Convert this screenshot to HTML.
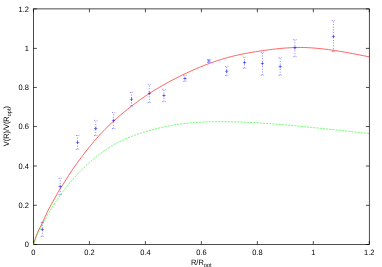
<!DOCTYPE html>
<html><head><meta charset="utf-8"><style>
html,body{margin:0;padding:0;background:#fff;}
svg{display:block;will-change:transform;}
text{text-rendering:geometricPrecision;font-family:"Liberation Sans",sans-serif;font-size:7.8px;fill:#000;}
</style></head><body>
<svg width="382" height="267" viewBox="0 0 382 267">
<rect width="382" height="267" fill="#fff"/>
<g fill="none" stroke="#000" stroke-width="0.7">
<rect x="33.45" y="8.9" width="335.85" height="235.60"/>
<path d="M33.45,244.5V241.1M33.45,8.9V12.3M33.45,244.50H36.85M369.3,244.50H365.90000000000003M89.43,244.5V241.1M89.43,8.9V12.3M33.45,205.30H36.85M369.3,205.30H365.90000000000003M145.40,244.5V241.1M145.40,8.9V12.3M33.45,166.00H36.85M369.3,166.00H365.90000000000003M201.38,244.5V241.1M201.38,8.9V12.3M33.45,126.55H36.85M369.3,126.55H365.90000000000003M257.35,244.5V241.1M257.35,8.9V12.3M33.45,87.45H36.85M369.3,87.45H365.90000000000003M313.32,244.5V241.1M313.32,8.9V12.3M33.45,48.40H36.85M369.3,48.40H365.90000000000003M369.30,244.5V241.1M369.30,8.9V12.3M33.45,8.90H36.85M369.3,8.90H365.90000000000003"/>
</g>
<path d="M33.45,244.50 L34.86,240.08 L36.26,235.92 L37.67,232.43 L39.07,229.43 L40.48,226.58 L41.88,223.69 L43.29,220.68 L44.69,217.61 L46.10,214.57 L47.50,211.60 L48.91,208.75 L50.31,206.06 L51.72,203.55 L53.12,201.17 L54.53,198.76 L55.93,196.17 L57.34,193.53 L58.74,191.07 L60.15,188.85 L61.55,186.71 L62.96,184.55 L64.37,182.33 L65.77,180.07 L67.18,177.82 L68.58,175.59 L69.99,173.41 L71.39,171.27 L72.80,169.19 L74.20,167.15 L75.61,165.16 L77.01,163.19 L78.42,161.27 L79.82,159.37 L81.23,157.49 L82.63,155.64 L84.04,153.82 L85.44,152.01 L86.85,150.22 L88.25,148.44 L89.66,146.69 L91.06,144.96 L92.47,143.26 L93.87,141.58 L95.28,139.93 L96.69,138.31 L98.09,136.72 L99.50,135.16 L100.90,133.63 L102.31,132.13 L103.71,130.67 L105.12,129.23 L106.52,127.83 L107.93,126.44 L109.33,125.09 L110.74,123.76 L112.14,122.45 L113.55,121.16 L114.95,119.89 L116.36,118.64 L117.76,117.41 L119.17,116.19 L120.57,115.00 L121.98,113.81 L123.38,112.64 L124.79,111.49 L126.20,110.35 L127.60,109.22 L129.01,108.10 L130.41,107.00 L131.82,105.91 L133.22,104.83 L134.63,103.76 L136.03,102.71 L137.44,101.68 L138.84,100.66 L140.25,99.65 L141.65,98.66 L143.06,97.68 L144.46,96.72 L145.87,95.77 L147.27,94.83 L148.68,93.91 L150.08,93.00 L151.49,92.10 L152.89,91.21 L154.30,90.34 L155.71,89.48 L157.11,88.63 L158.52,87.79 L159.92,86.96 L161.33,86.14 L162.73,85.33 L164.14,84.54 L165.54,83.75 L166.95,82.97 L168.35,82.21 L169.76,81.45 L171.16,80.70 L172.57,79.96 L173.97,79.23 L175.38,78.50 L176.78,77.79 L178.19,77.09 L179.59,76.39 L181.00,75.70 L182.40,75.02 L183.81,74.34 L185.21,73.68 L186.62,73.02 L188.03,72.37 L189.43,71.72 L190.84,71.09 L192.24,70.46 L193.65,69.84 L195.05,69.22 L196.46,68.62 L197.86,68.02 L199.27,67.43 L200.67,66.85 L202.08,66.28 L203.48,65.71 L204.89,65.16 L206.29,64.61 L207.70,64.08 L209.10,63.55 L210.51,63.04 L211.91,62.53 L213.32,62.03 L214.72,61.54 L216.13,61.07 L217.54,60.60 L218.94,60.14 L220.35,59.69 L221.75,59.26 L223.16,58.83 L224.56,58.42 L225.97,58.01 L227.37,57.62 L228.78,57.23 L230.18,56.86 L231.59,56.50 L232.99,56.15 L234.40,55.81 L235.80,55.48 L237.21,55.17 L238.61,54.86 L240.02,54.56 L241.42,54.27 L242.83,53.98 L244.23,53.71 L245.64,53.44 L247.04,53.18 L248.45,52.93 L249.86,52.68 L251.26,52.44 L252.67,52.20 L254.07,51.97 L255.48,51.75 L256.88,51.53 L258.29,51.31 L259.69,51.10 L261.10,50.89 L262.50,50.68 L263.91,50.48 L265.31,50.28 L266.72,50.09 L268.12,49.90 L269.53,49.71 L270.93,49.53 L272.34,49.35 L273.74,49.19 L275.15,49.02 L276.55,48.86 L277.96,48.71 L279.37,48.57 L280.77,48.43 L282.18,48.31 L283.58,48.19 L284.99,48.07 L286.39,47.97 L287.80,47.88 L289.20,47.79 L290.61,47.72 L292.01,47.65 L293.42,47.59 L294.82,47.55 L296.23,47.51 L297.63,47.49 L299.04,47.48 L300.44,47.48 L301.85,47.49 L303.25,47.51 L304.66,47.55 L306.06,47.59 L307.47,47.65 L308.88,47.71 L310.28,47.79 L311.69,47.88 L313.09,47.98 L314.50,48.08 L315.90,48.20 L317.31,48.33 L318.71,48.46 L320.12,48.60 L321.52,48.75 L322.93,48.91 L324.33,49.07 L325.74,49.25 L327.14,49.43 L328.55,49.61 L329.95,49.81 L331.36,50.00 L332.76,50.21 L334.17,50.42 L335.57,50.64 L336.98,50.86 L338.38,51.08 L339.79,51.31 L341.20,51.55 L342.60,51.79 L344.01,52.03 L345.41,52.28 L346.82,52.53 L348.22,52.79 L349.63,53.04 L351.03,53.30 L352.44,53.57 L353.84,53.83 L355.25,54.10 L356.65,54.37 L358.06,54.65 L359.46,54.92 L360.87,55.20 L362.27,55.47 L363.68,55.75 L365.08,56.03 L366.49,56.31 L367.89,56.59 L369.30,56.88" fill="none" stroke="#ff0000" stroke-width="0.62"/>
<path d="M33.45,244.50 L34.86,239.92 L36.26,236.70 L37.67,233.72 L39.07,230.87 L40.48,228.11 L41.88,225.41 L43.29,222.75 L44.69,220.14 L46.10,217.58 L47.50,215.07 L48.91,212.63 L50.31,210.26 L51.72,207.96 L53.12,205.73 L54.53,203.55 L55.93,201.43 L57.34,199.35 L58.74,197.33 L60.15,195.34 L61.55,193.41 L62.96,191.51 L64.37,189.66 L65.77,187.84 L67.18,186.07 L68.58,184.33 L69.99,182.63 L71.39,180.97 L72.80,179.34 L74.20,177.75 L75.61,176.20 L77.01,174.67 L78.42,173.18 L79.82,171.72 L81.23,170.29 L82.63,168.90 L84.04,167.53 L85.44,166.19 L86.85,164.88 L88.25,163.59 L89.66,162.34 L91.06,161.11 L92.47,159.90 L93.87,158.72 L95.28,157.57 L96.69,156.44 L98.09,155.33 L99.50,154.25 L100.90,153.19 L102.31,152.15 L103.71,151.14 L105.12,150.15 L106.52,149.18 L107.93,148.25 L109.33,147.34 L110.74,146.46 L112.14,145.60 L113.55,144.78 L114.95,143.99 L116.36,143.22 L117.76,142.48 L119.17,141.76 L120.57,141.07 L121.98,140.40 L123.38,139.76 L124.79,139.13 L126.20,138.52 L127.60,137.94 L129.01,137.36 L130.41,136.81 L131.82,136.27 L133.22,135.75 L134.63,135.23 L136.03,134.74 L137.44,134.25 L138.84,133.78 L140.25,133.32 L141.65,132.86 L143.06,132.42 L144.46,131.98 L145.87,131.56 L147.27,131.14 L148.68,130.73 L150.08,130.33 L151.49,129.94 L152.89,129.56 L154.30,129.19 L155.71,128.83 L157.11,128.47 L158.52,128.13 L159.92,127.80 L161.33,127.47 L162.73,127.16 L164.14,126.85 L165.54,126.55 L166.95,126.27 L168.35,125.99 L169.76,125.72 L171.16,125.47 L172.57,125.22 L173.97,124.98 L175.38,124.75 L176.78,124.54 L178.19,124.33 L179.59,124.13 L181.00,123.94 L182.40,123.76 L183.81,123.59 L185.21,123.43 L186.62,123.28 L188.03,123.13 L189.43,123.00 L190.84,122.87 L192.24,122.75 L193.65,122.63 L195.05,122.53 L196.46,122.43 L197.86,122.33 L199.27,122.25 L200.67,122.17 L202.08,122.09 L203.48,122.03 L204.89,121.97 L206.29,121.91 L207.70,121.86 L209.10,121.82 L210.51,121.78 L211.91,121.75 L213.32,121.72 L214.72,121.70 L216.13,121.68 L217.54,121.67 L218.94,121.67 L220.35,121.66 L221.75,121.66 L223.16,121.67 L224.56,121.68 L225.97,121.70 L227.37,121.71 L228.78,121.74 L230.18,121.76 L231.59,121.79 L232.99,121.83 L234.40,121.86 L235.80,121.90 L237.21,121.95 L238.61,121.99 L240.02,122.04 L241.42,122.10 L242.83,122.15 L244.23,122.21 L245.64,122.28 L247.04,122.34 L248.45,122.41 L249.86,122.48 L251.26,122.55 L252.67,122.62 L254.07,122.70 L255.48,122.78 L256.88,122.86 L258.29,122.95 L259.69,123.03 L261.10,123.12 L262.50,123.21 L263.91,123.31 L265.31,123.40 L266.72,123.50 L268.12,123.60 L269.53,123.70 L270.93,123.80 L272.34,123.90 L273.74,124.01 L275.15,124.12 L276.55,124.23 L277.96,124.34 L279.37,124.45 L280.77,124.57 L282.18,124.68 L283.58,124.80 L284.99,124.92 L286.39,125.04 L287.80,125.16 L289.20,125.29 L290.61,125.41 L292.01,125.54 L293.42,125.66 L294.82,125.79 L296.23,125.92 L297.63,126.05 L299.04,126.18 L300.44,126.32 L301.85,126.45 L303.25,126.59 L304.66,126.72 L306.06,126.86 L307.47,127.00 L308.88,127.14 L310.28,127.28 L311.69,127.42 L313.09,127.56 L314.50,127.70 L315.90,127.84 L317.31,127.99 L318.71,128.13 L320.12,128.28 L321.52,128.42 L322.93,128.57 L324.33,128.72 L325.74,128.87 L327.14,129.01 L328.55,129.16 L329.95,129.31 L331.36,129.46 L332.76,129.61 L334.17,129.76 L335.57,129.92 L336.98,130.07 L338.38,130.22 L339.79,130.37 L341.20,130.53 L342.60,130.68 L344.01,130.83 L345.41,130.99 L346.82,131.14 L348.22,131.30 L349.63,131.45 L351.03,131.61 L352.44,131.76 L353.84,131.92 L355.25,132.08 L356.65,132.23 L358.06,132.39 L359.46,132.54 L360.87,132.70 L362.27,132.86 L363.68,133.01 L365.08,133.17 L366.49,133.33 L367.89,133.48 L369.30,133.64" fill="none" stroke="#00ff00" stroke-width="0.58" stroke-dasharray="2.12 1.06"/>
<g fill="none" stroke="#0000ff" stroke-width="0.47">
<path d="M42.35,236.40V222.40" stroke-dasharray="1.06 1.59"/>
<path d="M40.68,222.40H44.02M40.68,236.40H44.02" stroke-dasharray="1.06 1.59"/>
<path d="M40.68,229.50H44.02M42.35,227.83V231.17"/>
<path d="M60.20,194.70V178.40" stroke-dasharray="1.06 1.59"/>
<path d="M58.53,178.40H61.87M58.53,194.70H61.87" stroke-dasharray="1.06 1.59"/>
<path d="M58.53,186.50H61.87M60.20,184.83V188.17"/>
<path d="M77.55,149.30V135.50" stroke-dasharray="1.06 1.59"/>
<path d="M75.88,135.50H79.22M75.88,149.30H79.22" stroke-dasharray="1.06 1.59"/>
<path d="M75.88,142.45H79.22M77.55,140.78V144.12"/>
<path d="M95.75,135.60V120.40" stroke-dasharray="1.06 1.59"/>
<path d="M94.08,120.40H97.42M94.08,135.60H97.42" stroke-dasharray="1.06 1.59"/>
<path d="M94.08,128.50H97.42M95.75,126.83V130.17"/>
<path d="M113.60,128.50V112.50" stroke-dasharray="1.06 1.59"/>
<path d="M111.93,112.50H115.27M111.93,128.50H115.27" stroke-dasharray="1.06 1.59"/>
<path d="M111.93,120.60H115.27M113.60,118.93V122.27"/>
<path d="M131.50,106.10V92.50" stroke-dasharray="1.06 1.59"/>
<path d="M129.83,92.50H133.17M129.83,106.10H133.17" stroke-dasharray="1.06 1.59"/>
<path d="M129.83,99.30H133.17M131.50,97.63V100.97"/>
<path d="M149.30,102.55V84.35" stroke-dasharray="1.06 1.59"/>
<path d="M147.63,84.35H150.97M147.63,102.55H150.97" stroke-dasharray="1.06 1.59"/>
<path d="M147.63,93.35H150.97M149.30,91.68V95.02"/>
<path d="M163.95,101.50V89.40" stroke-dasharray="1.06 1.59"/>
<path d="M162.28,89.40H165.62M162.28,101.50H165.62" stroke-dasharray="1.06 1.59"/>
<path d="M162.28,95.50H165.62M163.95,93.83V97.17"/>
<path d="M184.96,81.40V75.60" stroke-dasharray="1.06 1.59"/>
<path d="M183.29,75.60H186.63M183.29,81.40H186.63" stroke-dasharray="1.06 1.59"/>
<path d="M183.29,78.50H186.63M184.96,76.83V80.17"/>
<path d="M208.90,62.50V59.40" stroke-dasharray="1.06 1.59"/>
<path d="M207.23,59.40H210.57M207.23,62.50H210.57" stroke-dasharray="1.06 1.59"/>
<path d="M207.23,60.90H210.57M208.90,59.23V62.57"/>
<path d="M226.70,75.70V66.60" stroke-dasharray="1.06 1.59"/>
<path d="M225.03,66.60H228.37M225.03,75.70H228.37" stroke-dasharray="1.06 1.59"/>
<path d="M225.03,71.30H228.37M226.70,69.63V72.97"/>
<path d="M244.50,68.20V57.10" stroke-dasharray="1.06 1.59"/>
<path d="M242.83,57.10H246.17M242.83,68.20H246.17" stroke-dasharray="1.06 1.59"/>
<path d="M242.83,62.60H246.17M244.50,60.93V64.27"/>
<path d="M262.40,75.10V52.50" stroke-dasharray="1.06 1.59"/>
<path d="M260.73,52.50H264.07M260.73,75.10H264.07" stroke-dasharray="1.06 1.59"/>
<path d="M260.73,63.50H264.07M262.40,61.83V65.17"/>
<path d="M280.20,75.30V57.70" stroke-dasharray="1.06 1.59"/>
<path d="M278.53,57.70H281.87M278.53,75.30H281.87" stroke-dasharray="1.06 1.59"/>
<path d="M278.53,66.60H281.87M280.20,64.93V68.27"/>
<path d="M294.90,56.70V39.60" stroke-dasharray="1.06 1.59"/>
<path d="M293.23,39.60H296.57M293.23,56.70H296.57" stroke-dasharray="1.06 1.59"/>
<path d="M293.23,47.75H296.57M294.90,46.08V49.42"/>
<path d="M333.40,51.60V20.40" stroke-dasharray="1.06 1.59"/>
<path d="M331.73,20.40H335.07M331.73,51.60H335.07" stroke-dasharray="1.06 1.59"/>
<path d="M331.73,36.50H335.07M333.40,34.83V38.17"/>
</g>
<g>
<text transform="translate(33.45,255.00) scale(0.96,1.0)" text-anchor="middle">0</text>
<text transform="translate(28.90,247.10) scale(0.96,1.0)" text-anchor="end">0</text>
<text transform="translate(89.43,255.00) scale(0.96,1.0)" text-anchor="middle">0.2</text>
<text transform="translate(28.90,207.90) scale(0.96,1.0)" text-anchor="end">0.2</text>
<text transform="translate(145.40,255.00) scale(0.96,1.0)" text-anchor="middle">0.4</text>
<text transform="translate(28.90,168.60) scale(0.96,1.0)" text-anchor="end">0.4</text>
<text transform="translate(201.38,255.00) scale(0.96,1.0)" text-anchor="middle">0.6</text>
<text transform="translate(28.90,129.15) scale(0.96,1.0)" text-anchor="end">0.6</text>
<text transform="translate(257.35,255.00) scale(0.96,1.0)" text-anchor="middle">0.8</text>
<text transform="translate(28.90,90.05) scale(0.96,1.0)" text-anchor="end">0.8</text>
<text transform="translate(313.32,255.00) scale(0.96,1.0)" text-anchor="middle">1</text>
<text transform="translate(28.90,51.00) scale(0.96,1.0)" text-anchor="end">1</text>
<text transform="translate(369.30,255.00) scale(0.96,1.0)" text-anchor="middle">1.2</text>
<text transform="translate(28.90,11.50) scale(0.96,1.0)" text-anchor="end">1.2</text>
<text transform="translate(190.90,264.60) scale(0.96,1.0)" text-anchor="start">R/R<tspan dy="2.2" font-size="5.9">opt</tspan></text>
<text transform="translate(8.60,146.20) rotate(-90) scale(0.945,1.0)" text-anchor="start">V(R)/V(R<tspan dy="2.2" font-size="5.9">opt</tspan><tspan dy="-2.2">)</tspan></text>
</g>
</svg>
</body></html>
